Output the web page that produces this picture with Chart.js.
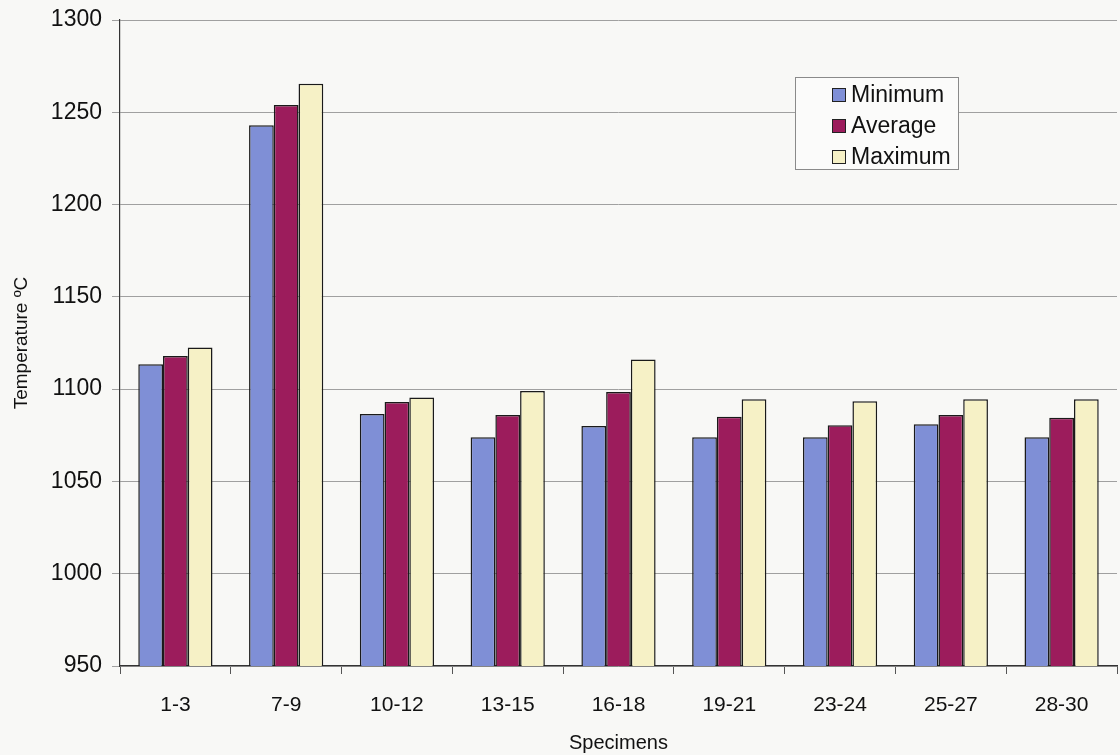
<!DOCTYPE html>
<html lang="en">
<head>
  <meta charset="UTF-8">
  <title>Temperature by specimen</title>
  <script src="https://cdn.jsdelivr.net/npm/chart.js"></script>
  <style>
    body { margin: 0; background: #f8f8f6; }
    #wrap { position: relative; width: 1120px; height: 755px; }
  </style>
</head>
<body>
  <div id="wrap"><canvas id="tempChart"></canvas></div>

  <script>
    const specimens = ['1-3', '7-9', '10-12', '13-15', '16-18', '19-21', '23-24', '25-27', '28-30'];
    const minimum = [1113.5, 1243, 1086.5, 1074, 1080, 1074, 1074, 1081, 1074];
    const average = [1118, 1254, 1093, 1086, 1098.5, 1085, 1080.5, 1086, 1084.5];
    const maximum = [1122.5, 1265.5, 1095.5, 1099, 1116, 1094.5, 1093.5, 1094.5, 1094.5];
    const yTicks = [950, 1000, 1050, 1100, 1150, 1200, 1250, 1300];

    const font = 'Liberation Sans, Arial, sans-serif';

    // legend box drawn inside the plot, like the original
    const boxLegend = {
      id: 'boxLegend',
      afterDraw(chart) {
        const c = chart.ctx;
        const x = 795, y = 77, w = 163, h = 92;
        c.save();
        c.fillStyle = '#fbfbfa';
        c.fillRect(x, y, w, h);
        c.strokeStyle = '#8a8a8a';
        c.lineWidth = 1;
        c.strokeRect(x + 0.5, y + 0.5, w, h);
        c.font = '23px ' + font;
        c.textBaseline = 'middle';
        chart.data.datasets.forEach((ds, i) => {
          const cy = y + 18 + i * 31;
          c.fillStyle = ds.backgroundColor;
          c.fillRect(x + 37, cy - 7, 14, 14);
          c.strokeStyle = '#222';
          c.strokeRect(x + 37.5, cy - 6.5, 13, 13);
          c.fillStyle = '#111';
          c.fillText(ds.label, x + 56, cy + 1);
        });
        c.restore();
      }
    };

    new Chart(document.getElementById('tempChart'), {
      type: 'bar',
      data: {
        labels: specimens,
        datasets: [
          { label: 'Minimum', data: minimum, backgroundColor: '#7f8fd6' },
          { label: 'Average', data: average, backgroundColor: '#9c1c5c' },
          { label: 'Maximum', data: maximum, backgroundColor: '#f6f1c6' }
        ].map(d => Object.assign(d, { borderColor: '#1a1a1a', borderWidth: 1.5 }))
      },
      options: {
        responsive: true,
        maintainAspectRatio: false,
        animation: false,
        layout: { padding: { top: 20, right: 3, left: 0, bottom: 0 } },
        datasets: { bar: { categoryPercentage: 0.67, barPercentage: 1 } },
        plugins: { legend: { display: false }, tooltip: { enabled: false } },
        scales: {
          x: {
            grid: { drawOnChartArea: false, color: '#555', tickLength: 8, offset: true },
            border: { color: '#333', width: 1.2 },
            ticks: { color: '#111', font: { family: font, size: 21 }, padding: 19 },
            title: { display: true, text: 'Specimens', color: '#111', font: { family: font, size: 20 }, padding: { top: 8, bottom: 0 } },
            afterFit(scale) { scale.height = 89; }
          },
          y: {
            min: 950,
            max: 1300,
            afterBuildTicks(scale) { scale.ticks = yTicks.map(v => ({ value: v })); },
            grid: { color: '#a0a0a0', tickLength: 8 },
            border: { color: '#333', width: 1.2 },
            ticks: { color: '#111', font: { family: font, size: 23 }, padding: 10, callback: v => String(v) },
            title: { display: true, text: 'Temperature ºC', color: '#111', font: { family: font, size: 19 }, padding: { top: 10, bottom: 8 } },
            afterFit(scale) {
              scale.width = 120;
              scale.paddingTop = 0;
              scale.paddingBottom = 0;
            }
          }
        }
      },
      plugins: [boxLegend]
    });
  </script>
</body>
</html>
